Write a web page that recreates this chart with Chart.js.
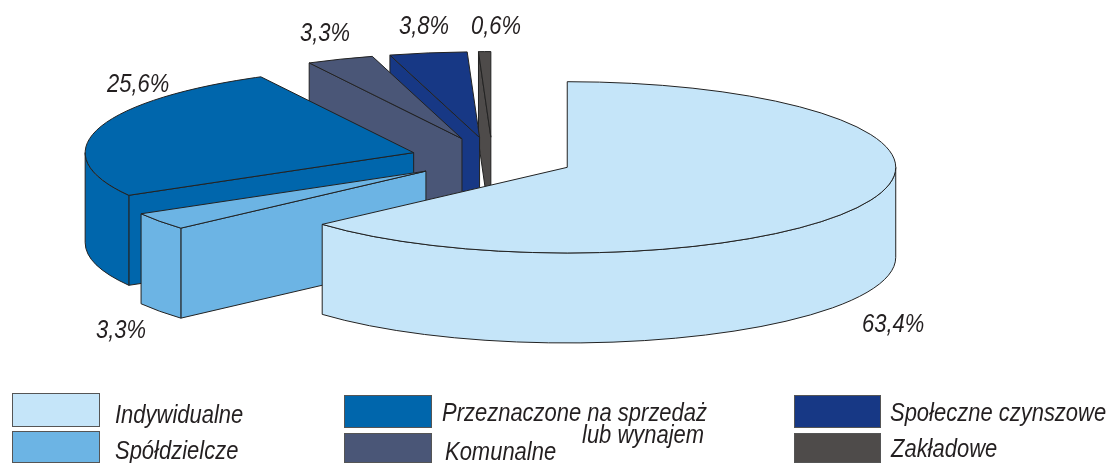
<!DOCTYPE html>
<html>
<head>
<meta charset="utf-8">
<title>Mieszkania</title>
<script src="https://cdn.jsdelivr.net/npm/chart.js@4"></script>
<style>
    html, body { margin: 0; padding: 0; background: #fff; }
    canvas { display: block; }
</style>
</head>
<body>
<canvas id="grafico_pie" width="1108" height="463"></canvas>
<script>
// dane, kolejnosc jak na kole, od gory w prawo
const kategorie = ['Indywidualne', 'Spółdzielcze', 'Przeznaczone na sprzedaż', 'Komunalne', 'Społeczne czynszowe', 'Zakładowe'];
const wartosci = [63.4, 3.3, 25.6, 3.3, 3.8, 0.6];
const etykiety = ['63,4%', '3,3%', '25,6%', '3,3%', '3,8%', '0,6%'];
const kolory = ['#c5e5f9', '#6cb4e4', '#0066ac', '#4a5677', '#173885', '#4e4b4a'];

// wyglad
const splaszczenie = 0.2607;
const wysokosc = 90;
const wysuniecie = 82;
const promien = 328.5;
const obrys = '#222222';
const czcionka = 'italic 26px "Liberation Sans"';
const scisniecie = 0.845;
const czarny = '#231f20';

// x, linia bazowa
const pozycjeEtykiet = [[862, 332], [96, 338], [107, 92], [300, 41], [399, 34], [471, 34]];
const legenda = [
    { i: 0, box: [12, 393, 88, 34], tekst: [['Indywidualne', 115, 423]] },
    { i: 1, box: [12, 431, 88, 32], tekst: [['Spółdzielcze', 115, 459]] },
    { i: 2, box: [344, 395, 88, 33], tekst: [['Przeznaczone na sprzedaż', 442, 421], ['lub wynajem', 582, 443]] },
    { i: 3, box: [344, 433, 88, 30], tekst: [['Komunalne', 445, 460]] },
    { i: 4, box: [794, 395, 87, 33], tekst: [['Społeczne czynszowe', 890, 421]] },
    { i: 5, box: [794, 433, 87, 30], tekst: [['Zakładowe', 891, 457]] }
];

function rysujTekst(ctx, tekst, x, y) {
    ctx.save();
    ctx.translate(x, y);
    ctx.scale(scisniecie, 1);
    ctx.font = czcionka;
    ctx.fillStyle = czarny;
    ctx.textBaseline = 'alphabetic';
    ctx.fillText(tekst, 0, 0);
    ctx.restore();
}

function rysujWycinek(ctx, arc, kolor) {
    const polowa = (arc.startAngle + arc.endAngle) / 2;
    const ax = arc.x + Math.cos(polowa) * wysuniecie;
    const ay = arc.y + Math.sin(polowa) * wysuniecie * splaszczenie;
    const rx = arc.outerRadius;
    const ry = arc.outerRadius * splaszczenie;

    ctx.save();
    ctx.fillStyle = kolor;
    ctx.strokeStyle = obrys;
    ctx.lineWidth = 1;
    ctx.lineJoin = 'round';

    // sciana boczna przy poczatku wycinka
    if (Math.cos(arc.startAngle) < 0) {
        const px = ax + Math.cos(arc.startAngle) * rx;
        const py = ay + Math.sin(arc.startAngle) * ry;
        ctx.beginPath();
        ctx.moveTo(ax, ay);
        ctx.lineTo(px, py);
        ctx.lineTo(px, py + wysokosc);
        ctx.lineTo(ax, ay + wysokosc);
        ctx.closePath();
        ctx.fill();
        ctx.stroke();
    }

    // sciana zewnetrzna, tylko przednia polowa elipsy
    const od = Math.max(arc.startAngle, 0);
    const doKata = Math.min(arc.endAngle, Math.PI);
    if (doKata > od) {
        ctx.beginPath();
        ctx.ellipse(ax, ay, rx, ry, 0, od, doKata);
        ctx.ellipse(ax, ay + wysokosc, rx, ry, 0, doKata, od, true);
        ctx.closePath();
        ctx.fill();
        ctx.stroke();
    }

    // gora wycinka rysuje sam Chart.js, w splaszczonym ukladzie
    ctx.save();
    ctx.translate(ax, ay);
    ctx.scale(1, splaszczenie);
    ctx.translate(-arc.x, -arc.y);
    arc.draw(ctx);
    ctx.restore();

    ctx.beginPath();
    ctx.moveTo(ax, ay);
    ctx.ellipse(ax, ay, rx, ry, 0, arc.startAngle, arc.endAngle);
    ctx.closePath();
    ctx.stroke();
    ctx.restore();
}

const kolo3d = {
    id: 'kolo3d',
    beforeDatasetDraw(chart, args) {
        const arcs = args.meta.data;
        // od tylu do przodu
        for (let i = arcs.length - 1; i >= 0; i--) {
            rysujWycinek(chart.ctx, arcs[i], kolory[i]);
        }
        return false;
    },
    afterDraw(chart) {
        const ctx = chart.ctx;
        etykiety.forEach(function (tekst, i) {
            rysujTekst(ctx, tekst, pozycjeEtykiet[i][0], pozycjeEtykiet[i][1]);
        });
        legenda.forEach(function (pole) {
            const b = pole.box;
            ctx.fillStyle = kolory[pole.i];
            ctx.fillRect(b[0], b[1], b[2], b[3]);
            ctx.strokeStyle = '#555555';
            ctx.lineWidth = 1;
            ctx.strokeRect(b[0] + 0.5, b[1] + 0.5, b[2] - 1, b[3] - 1);
            pole.tekst.forEach(function (t) {
                rysujTekst(ctx, t[0], t[1], t[2]);
            });
        });
    }
};

new Chart(document.getElementById('grafico_pie'), {
    type: 'pie',
    data: {
        labels: kategorie,
        datasets: [{
            data: wartosci,
            backgroundColor: kolory,
            borderWidth: 0,
            clip: false
        }]
    },
    options: {
        responsive: false,
        animation: false,
        radius: promien,
        layout: { padding: { right: 123.2, bottom: 145.8 } },
        plugins: {
            legend: { display: false },
            tooltip: { enabled: false }
        }
    },
    plugins: [kolo3d]
});
</script>
</body>
</html>
